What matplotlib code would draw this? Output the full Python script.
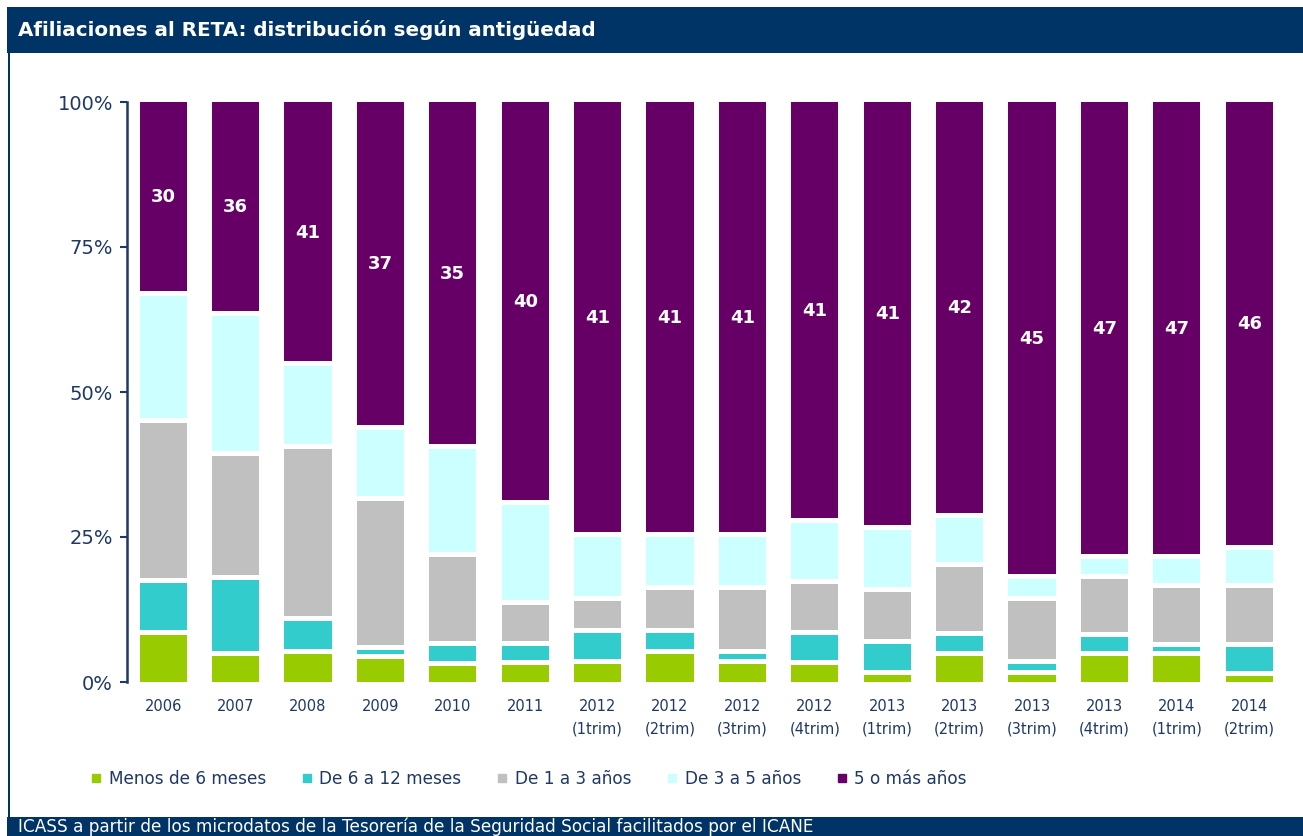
import matplotlib
matplotlib.use("Agg")
import matplotlib.pyplot as plt
from matplotlib.lines import Line2D
from matplotlib.patches import Rectangle
import numpy as np

plt.rcParams['font.family'] = ['DejaVu Sans']

categories = ["2006", "2007", "2008", "2009", "2010", "2011",
              "2012\n(1trim)", "2012\n(2trim)", "2012\n(3trim)", "2012\n(4trim)",
              "2013\n(1trim)", "2013\n(2trim)", "2013\n(3trim)", "2013\n(4trim)",
              "2014\n(1trim)", "2014\n(2trim)"]

series_names = ["Menos de 6 meses", "De 6 a 12 meses", "De 1 a 3 años",
                "De 3 a 5 años", "5 o más años"]

menos_6_meses = [8.7, 5.0, 5.4, 4.4, 3.3, 3.4, 3.6, 5.4, 3.6, 3.4, 1.7, 5.0, 1.7, 5.0, 5.0, 1.6]
de_6_a_12_meses = [8.9, 13.1, 5.6, 1.6, 3.4, 3.4, 5.4, 3.6, 1.7, 5.3, 5.3, 3.4, 1.9, 3.3, 1.6, 5.0]
de_1_a_3_anos = [27.5, 21.3, 29.7, 25.8, 15.3, 7.0, 5.5, 7.3, 11.0, 8.8, 9.0, 11.9, 10.9, 10.0, 10.1, 10.1]
de_3_a_5_anos = [22.0, 24.3, 14.3, 12.2, 18.7, 17.2, 11.0, 9.2, 9.2, 10.5, 10.8, 8.5, 3.7, 3.4, 5.0, 6.6]
cinco_o_mas = [32.9, 36.3, 45.0, 56.0, 59.3, 69.0, 74.5, 74.5, 74.5, 72.0, 73.2, 71.2, 81.8, 78.3, 78.3, 76.7]

labels_5_mas = [30, 36, 41, 37, 35, 40, 41, 41, 41, 41, 41, 42, 45, 47, 47, 46]

colors = ["#99CC00", "#33CCCC", "#C0C0C0", "#CCFFFF", "#660066"]
navy = "#003366"
textc = "#1F3864"

W, H = 1303, 836
fig = plt.figure(figsize=(W / 100, H / 100), dpi=100)

def fx(p):
    return p / W

def fy(p):
    return 1 - p / H

# Title bar, footer and frame
fig.add_artist(Rectangle((fx(7), fy(53)), fx(W - 7), 46 / H, transform=fig.transFigure,
                         facecolor=navy, edgecolor='none', zorder=0))
fig.text(fx(18), fy(30), "Afiliaciones al RETA: distribución según antigüedad",
         color="white", fontsize=14.3, fontweight="bold", va="center", ha="left")
fig.add_artist(Rectangle((fx(7), 0), fx(W - 7), 19 / H, transform=fig.transFigure,
                         facecolor=navy, edgecolor='none', zorder=0))
fig.text(fx(18), fy(835.5), "ICASS a partir de los microdatos de la Tesorería de la Seguridad Social facilitados por el ICANE",
         color="white", fontsize=12.2, va="bottom", ha="left")
fig.add_artist(Rectangle((fx(8), fy(818)), fx(2), 765 / H, transform=fig.transFigure,
                         facecolor=navy, edgecolor='none', zorder=0))

# Axes
ax = fig.add_axes([fx(127), fy(682), fx(16 * 72.4), 580 / H])

data = np.array([menos_6_meses, de_6_a_12_meses, de_1_a_3_anos, de_3_a_5_anos, cinco_o_mas])
data = data / data.sum(axis=0) * 100
x = np.arange(len(categories))
bw = 0.65
bottom = np.zeros(len(categories))
for vals, col in zip(data, colors):
    ax.bar(x, vals, bw, bottom=bottom, color=col, linewidth=0, zorder=2)
    bottom = bottom + vals

# white separators between segments
cum = np.cumsum(data, axis=0)[:-1]
for i in x:
    ax.hlines(cum[:, i], i - bw / 2 - 0.02, i + bw / 2 + 0.02, colors="white", linewidth=3.6, zorder=3)

# labels on the top segment
mid = cum[-1] + data[-1] / 2
for i in x:
    ax.text(i, mid[i], str(labels_5_mas[i]), color="white", fontsize=13, fontweight="bold",
            ha="center", va="center", zorder=4)

ax.set_xlim(-0.5, len(categories) - 0.5)
ax.set_ylim(0, 100)
ax.set_yticks([0, 25, 50, 75, 100])
ax.set_yticklabels(["0%", "25%", "50%", "75%", "100%"])
ax.set_xticks(x)
ax.set_xticklabels(categories, linespacing=1.65)
ax.tick_params(axis='y', direction='out', length=5, width=1.5, color=textc,
               labelcolor=textc, labelsize=14, pad=5)
ax.tick_params(axis='x', length=0, labelcolor=textc, labelsize=10.5, pad=12)
for s in ["top", "right", "bottom"]:
    ax.spines[s].set_visible(False)
ax.spines["left"].set_color(textc)
ax.spines["left"].set_linewidth(1.8)
ax.set_facecolor("none")

handles = [Line2D([], [], marker='s', linestyle='none', markersize=6,
                  markerfacecolor=c, markeredgecolor=c) for c in colors]
fig.legend(handles, series_names, loc="center left", bbox_to_anchor=(fx(74), fy(779)),
           ncol=5, frameon=False, fontsize=12.2, labelcolor=textc, handlelength=0.8,
           handletextpad=0.35, columnspacing=2.0)

fig.savefig("out.png", dpi=100)
